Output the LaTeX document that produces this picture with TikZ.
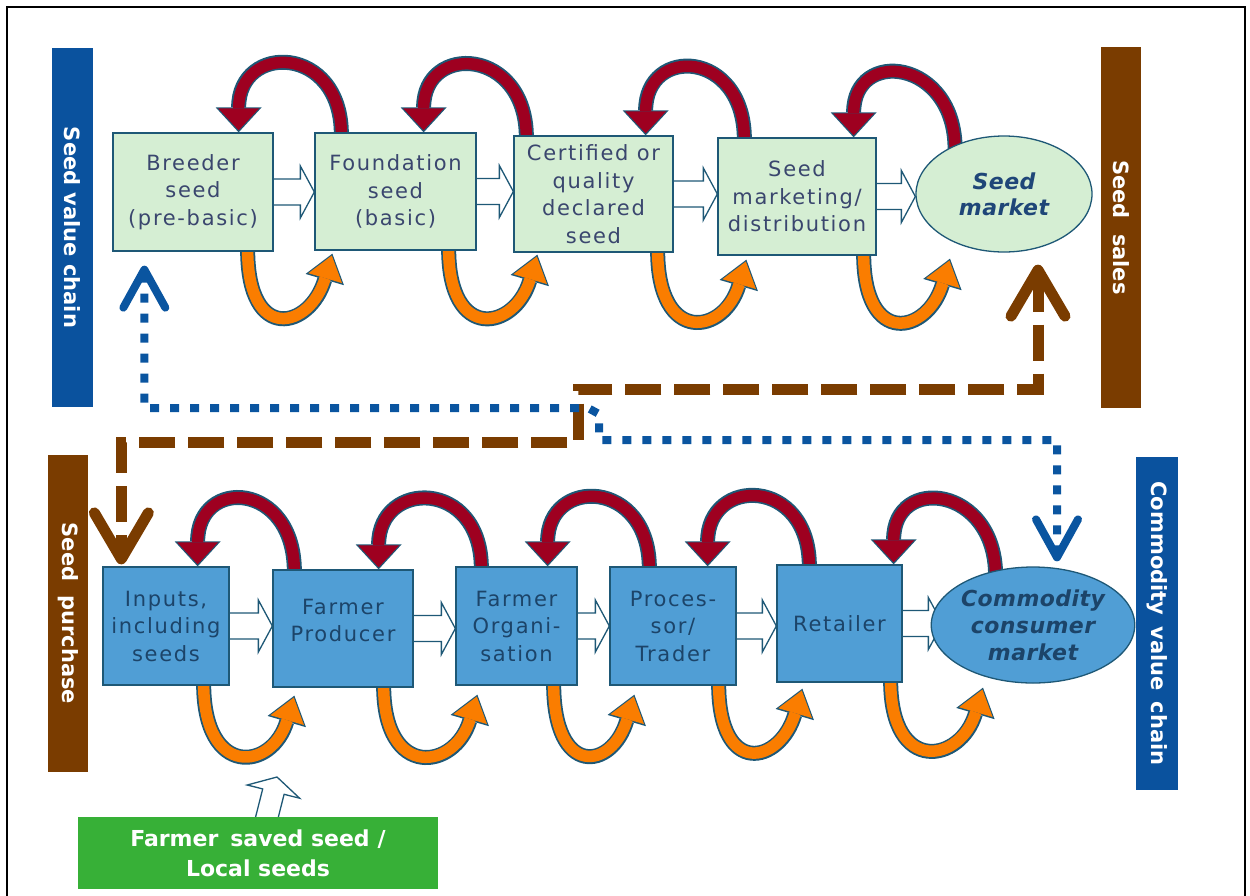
\documentclass[tikz,border=0pt]{standalone}
\usepackage{fontspec}
\setmainfont{DejaVu Sans}
\newfontfamily\boxfont[LetterSpace=8]{DejaVu Sans}
\newfontfamily\mktfont[LetterSpace=2]{DejaVu Sans}
\usetikzlibrary{arrows.meta,shapes.geometric,calc}
\definecolor{edgeC}{RGB}{30,88,118}
\definecolor{topfill}{RGB}{213,238,211}
\definecolor{botfill}{RGB}{80,158,213}
\definecolor{toptext}{RGB}{58,70,110}
\definecolor{bottext}{RGB}{28,68,105}
\definecolor{mkttext}{RGB}{31,70,120}
\definecolor{redC}{RGB}{158,0,32}
\definecolor{orangeC}{RGB}{250,125,0}
\definecolor{brownC}{RGB}{122,60,0}
\definecolor{blueC}{RGB}{10,85,160}
\definecolor{barblue}{RGB}{10,82,158}
\definecolor{greenC}{RGB}{55,176,55}
\tikzset{
 topbox/.style={draw=edgeC, fill=topfill, line width=1.3pt, inner sep=0pt, align=center, text=toptext, font=\boxfont\fontsize{21}{27.5}\selectfont},
 botbox/.style={topbox, fill=botfill, text=bottext},
 topell/.style={ellipse, draw=edgeC, fill=topfill, line width=1.3pt, inner sep=0pt, align=center, text=mkttext, font=\mktfont\bfseries\itshape\fontsize{22}{26}\selectfont},
 botell/.style={topell, fill=botfill, text=bottext, font=\mktfont\bfseries\itshape\fontsize{22}{27}\selectfont},
 sidebar/.style={inner sep=0pt, text=white, font=\bfseries\fontsize{21}{25}\selectfont, rotate=-90},
 greenbox/.style={fill=greenC, inner sep=0pt, align=center, text=white, font=\bfseries\fontsize{22}{30}\selectfont},
 redout/.style={draw=edgeC, line width=15pt, -{Triangle[width=46pt,length=25pt,line width=0pt]}},
 redin/.style={draw=redC, line width=11.5pt, shorten >=2pt, -{Triangle[width=41pt,length=22pt,line width=0pt]}},
 orout/.style={draw=edgeC, line width=15pt, -{Triangle[width=40pt,length=27pt,line width=0pt]}},
 orin/.style={draw=orangeC, line width=11.5pt, shorten >=2pt, -{Triangle[width=35pt,length=23.5pt,line width=0pt]}},
 hollowsty/.style={draw=edgeC, fill=white, line width=1.3pt, line join=miter},
 brownconn/.style={draw=brownC, line width=11pt, dash pattern=on 36pt off 13pt, {Straight Barb[length=46pt,width=54pt,round]}-{Straight Barb[length=46pt,width=54pt,round]}},
 blueconn/.style={draw=blueC, line width=8pt, dash pattern=on 9pt off 11pt, {Straight Barb[length=38pt,width=42pt,round]}-{Straight Barb[length=38pt,width=42pt,round]}},
}
\newcommand\redloop[2]{%
 \draw[redout] (#1) .. controls +(0,-90) and +(0,-90) .. (#2);
 \draw[redin] (#1) .. controls +(0,-90) and +(0,-90) .. (#2);}
\newcommand\orangeloop[2]{%
 \draw[orout] (#1) .. controls +(0,95) and +(-22,75) .. (#2);
 \draw[orin] (#1) .. controls +(0,95) and +(-22,75) .. (#2);}
\newcommand\hollowarr[2]{%
 \draw[hollowsty] ($(#1.east)+(-2,-13)$) -- ($(#1.east -| #2.west)+(-14,-13)$) -- ($(#1.east -| #2.west)+(-14,-26)$) -- (#1.east -| #2.west) -- ($(#1.east -| #2.west)+(-14,26)$) -- ($(#1.east -| #2.west)+(-14,13)$) -- ($(#1.east)+(-2,13)$);}
\begin{document}
\begin{tikzpicture}[x=1pt,y=-1pt]
\useasboundingbox (0,0) rectangle (1250,895);
\draw[line width=2pt] (7,7) rectangle (1245,905);

% side bars
\node[sidebar, fill=barblue, minimum width=359pt, minimum height=41pt] (lb1) at (72.5,227.5) {Seed value chain};
\node[sidebar, fill=brownC, minimum width=361pt, minimum height=40pt] (rb1) at (1121,227.5) {Seed\hspace{15pt}sales};
\node[sidebar, fill=brownC, minimum width=317pt, minimum height=40pt] (lb2) at (68,613.5) {Seed\hspace{14pt}purchase};
\node[sidebar, fill=barblue, minimum width=333pt, minimum height=42pt] (rb2) at (1157,623.5) {Commodity\hspace{11pt}value\hspace{11pt}chain};

% node positions
\path (193,192) coordinate (pb1) (395.5,191.5) coordinate (pb2) (593.5,194) coordinate (pb3) (797,196.5) coordinate (pb4) (1004,194) coordinate (pe1);
\path (166,626) coordinate (pc1) (343,628.5) coordinate (pc2) (516.5,626) coordinate (pc3) (673,626) coordinate (pc4) (839.5,623.5) coordinate (pc5) (1033,625) coordinate (pe2);

% invisible placeholders to get anchors before drawing
\begin{scope}[every node/.append style={draw=none, fill=none, text opacity=0}]
\node[topbox, draw=none, fill=none, minimum width=160pt, minimum height=118pt] (b1) at (pb1) {};
\node[topbox, draw=none, fill=none, minimum width=161pt, minimum height=117pt] (b2) at (pb2) {};
\node[topbox, draw=none, fill=none, minimum width=159pt, minimum height=116pt] (b3) at (pb3) {};
\node[topbox, draw=none, fill=none, minimum width=158pt, minimum height=117pt] (b4) at (pb4) {};
\node[topell, draw=none, fill=none, minimum width=176pt, minimum height=116pt] (e1) at (pe1) {};
\node[botbox, draw=none, fill=none, minimum width=126pt, minimum height=118pt] (c1) at (pc1) {};
\node[botbox, draw=none, fill=none, minimum width=140pt, minimum height=117pt] (c2) at (pc2) {};
\node[botbox, draw=none, fill=none, minimum width=121pt, minimum height=118pt] (c3) at (pc3) {};
\node[botbox, draw=none, fill=none, minimum width=126pt, minimum height=118pt] (c4) at (pc4) {};
\node[botbox, draw=none, fill=none, minimum width=125pt, minimum height=117pt] (c5) at (pc5) {};
\node[botell, draw=none, fill=none, minimum width=180pt, minimum height=116pt] (e2) at (pe2) {};
\end{scope}

% dashed / dotted connectors
\coordinate (brA) at ($(e1.south)+(34,12)$);
\coordinate (brB) at ($(c1.north west)+(19,-2)$);
\coordinate (j1) at (578,389);
\coordinate (j2) at (578,442);
\draw[brownconn] (brA) -- (brA |- j1) -- (j1) -- (j2) -- (brB |- j2) -- (brB);
\coordinate (blA) at ($(b1.south west)+(32,14)$);
\coordinate (blB) at ($(e2.north)+(24,-5)$);
\coordinate (k1) at (588,408);
\coordinate (k2) at (599,414);
\coordinate (k3) at (599,440);
\draw[blueconn] (blA) -- (blA |- k1) -- (k1) -- (k2) -- (k3) -- (blB |- k3) -- (blB);

% red loops (top)
\redloop{$(b2.north west)+(27,2)$}{$(b1.north east)+(-35,0)$}
\redloop{$(b3.north west)+(13,2)$}{$(b2.north east)+(-53,0)$}
\redloop{$(b4.north west)+(27,2)$}{$(b3.north east)+(-28,0)$}
\redloop{$(e1.135)+(0,4)$}{$(b4.north east)+(-23,0)$}
% red loops (bottom)
\redloop{$(c2.north west)+(22,2)$}{$(c1.north east)+(-32,0)$}
\redloop{$(c3.north west)+(26,2)$}{$(c2.north east)+(-35,0)$}
\redloop{$(c4.north west)+(40,2)$}{$(c3.north east)+(-30,0)$}
\redloop{$(c5.north west)+(33,2)$}{$(c4.north east)+(-29,0)$}
\redloop{$(e2.125)+(0,4)$}{$(c5.north east)+(-9,0)$}

% orange loops (top)
\orangeloop{$(b1.south east)+(-26,-2)$}{$(b2.south west)+(18,3)$}
\orangeloop{$(b2.south east)+(-28,-2)$}{$(b3.south west)+(24,2)$}
\orangeloop{$(b3.south east)+(-16,-2)$}{$(b4.south west)+(29,4)$}
\orangeloop{$(b4.south east)+(-13,-2)$}{$(e1.south)+(-54,6)$}
% orange loops (bottom)
\orangeloop{$(c1.south east)+(-26,-2)$}{$(c2.south west)+(22,8)$}
\orangeloop{$(c2.south east)+(-30,-2)$}{$(c3.south west)+(22,9)$}
\orangeloop{$(c3.south east)+(-24,-2)$}{$(c4.south west)+(25,9)$}
\orangeloop{$(c4.south east)+(-18,-2)$}{$(c5.south west)+(26,6)$}
\orangeloop{$(c5.south east)+(-12,-2)$}{$(e2.south)+(-50,4)$}

% hollow arrows
\hollowarr{b1}{b2}
\hollowarr{b2}{b3}
\hollowarr{b3}{b4}
\hollowarr{b4}{e1}
\hollowarr{c1}{c2}
\hollowarr{c2}{c3}
\hollowarr{c3}{c4}
\hollowarr{c4}{c5}
\hollowarr{c5}{e2}

% boxes
\node[topbox, minimum width=160pt, minimum height=118pt] at (pb1) {Breeder\\seed\\(pre-basic)};
\node[topbox, minimum width=161pt, minimum height=117pt] at (pb2) {Foundation\\seed\\(basic)};
\node[topbox, minimum width=159pt, minimum height=116pt] at (pb3) {Certified or\\quality\\declared\\seed};
\node[topbox, minimum width=158pt, minimum height=117pt] at (pb4) {Seed\\marketing/\\distribution};
\node[topell, minimum width=176pt, minimum height=116pt] at (pe1) {Seed\\market};
\node[botbox, minimum width=126pt, minimum height=118pt] at (pc1) {Inputs,\\including\\seeds};
\node[botbox, minimum width=140pt, minimum height=117pt] at (pc2) {Farmer\\Producer\\[-11.5pt]};
\node[botbox, minimum width=121pt, minimum height=118pt] at (pc3) {Farmer\\Organi-\\sation};
\node[botbox, minimum width=126pt, minimum height=118pt] at (pc4) {Proces-\\sor/\\Trader};
\node[botbox, minimum width=125pt, minimum height=117pt] at (pc5) {Retailer};
\node[botell, minimum width=180pt, minimum height=116pt] at (pe2) {Commodity\\consumer\\market};

% farmer saved seed
\coordinate (fsb) at (267,817);
\draw[hollowsty] ($(fsb)+(-12.2,3.1)$) -- ($(fsb)+(-4.3,-28.1)$) -- ($(fsb)+(-19.8,-32)$) -- ($(fsb)+(10,-40)$) -- ($(fsb)+(32.6,-18.8)$) -- ($(fsb)+(17.1,-22.7)$) -- ($(fsb)+(9.2,8.5)$);
\node[greenbox, minimum width=360pt, minimum height=72pt] (gs) at (258,853) {Farmer\hspace{12pt}saved seed\hspace{8pt}/\\Local seeds};
\end{tikzpicture}
\end{document}
